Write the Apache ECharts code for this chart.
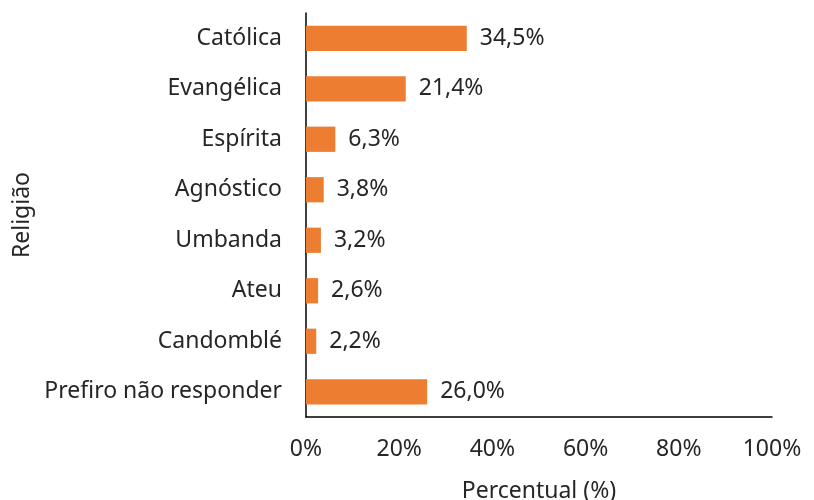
<!DOCTYPE html>
<html>
<head>
<meta charset="utf-8">
<script src="https://cdn.jsdelivr.net/npm/echarts@6/dist/echarts.min.js"></script>
<style>
  html, body { margin: 0; padding: 0; background: #fff; }
  #chart { width: 814px; height: 500px; }
</style>
</head>
<body>
<div id="chart"></div>
<script>
var categories = ['Católica', 'Evangélica', 'Espírita', 'Agnóstico', 'Umbanda', 'Ateu', 'Candomblé', 'Prefiro não responder']
var percentages = [34.5, 21.4, 6.3, 3.8, 3.2, 2.6, 2.2, 26.0]

var textColor = '#262626'
var font = 'Noto Sans'
var fontSize = 23

var chart = echarts.init(document.getElementById('chart'))
chart.setOption({
  animation: false,
  grid: { left: 306, right: 42, top: 13, bottom: 83, outerBoundsMode: 'none', containLabel: false },
  xAxis: {
    type: 'value',
    min: 0,
    max: 100,
    interval: 20,
    name: 'Percentual (%)',
    nameLocation: 'middle',
    nameGap: 63,
    nameTextStyle: { fontFamily: font, fontSize: fontSize, color: textColor },
    axisLine: { show: true, lineStyle: { color: '#000', width: 1.5 } },
    axisTick: { show: false },
    splitLine: { show: false },
    axisLabel: {
      margin: 21,
      fontFamily: font,
      fontSize: fontSize,
      color: textColor,
      formatter: '{value}%'
    }
  },
  yAxis: {
    type: 'category',
    data: categories,
    inverse: true,
    name: 'Religião',
    nameLocation: 'middle',
    nameGap: 272,
    nameRotate: 90,
    nameTextStyle: { fontFamily: font, fontSize: fontSize, color: textColor },
    axisLine: { show: true, lineStyle: { color: '#000', width: 1.5 } },
    axisTick: { show: false },
    axisLabel: { margin: 24, fontFamily: font, fontSize: fontSize, color: textColor }
  },
  series: [
    {
      type: 'bar',
      data: percentages,
      barCategoryGap: '50%',
      itemStyle: { color: '#ED7D31' },
      label: {
        show: true,
        position: 'right',
        distance: 13,
        fontFamily: font,
        fontSize: fontSize,
        color: textColor,
        formatter: function(p) {
          return p.value.toFixed(1).replace('.', ',') + '%'
        }
      }
    }
  ]
})
</script>
</body>
</html>
